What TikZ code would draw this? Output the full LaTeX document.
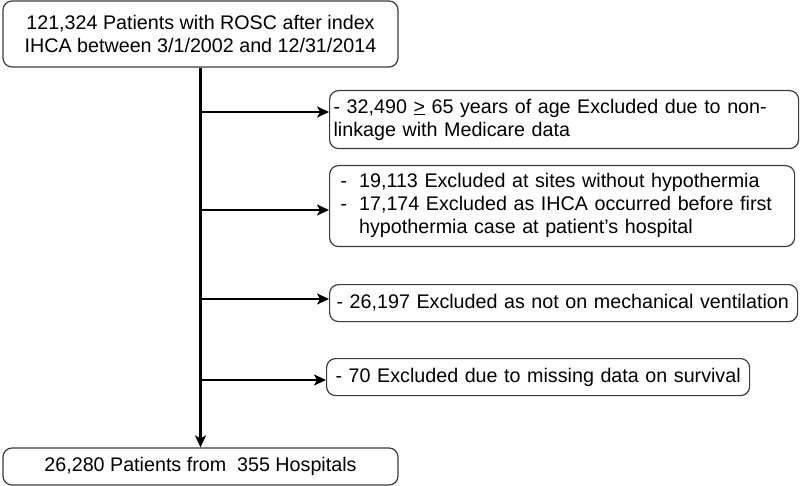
\documentclass[tikz,border=0pt]{standalone}
\usepackage{fontspec}
\setmainfont{Liberation Sans}
\usepackage{tikz}
\usetikzlibrary{positioning,arrows.meta}
\definecolor{cBorder}{HTML}{3C3C3C}
\tikzset{
  base/.style={rounded corners=9pt,draw=cBorder,line width=1.2pt,font=\fontsize{19.7pt}{23pt}\selectfont,inner ysep=0pt,inner xsep=4pt},
  mainbox/.style={base,align=center,minimum width=395pt},
  exbox/.style={base,anchor=north west,align=left},
  arr/.style={-{Stealth[length=12pt,width=11pt,inset=3pt]},line width=2.6pt}}
\begin{document}
\begin{tikzpicture}[x=1pt,y=1pt]
\useasboundingbox (0,0) rectangle (800,-486);
\node[mainbox,minimum height=66pt] (top) at (200.5,-34) {121,324 Patients with ROSC after index\\ IHCA between 3/1/2002 and 12/31/2014};
\node[mainbox,minimum height=37pt] (bot) at (200.5,-466.5) {26,280 Patients from\ \ 355 Hospitals};
\node[exbox,text width=461pt,minimum height=58pt] (ex1) at (329,-90) {- 32,490 \underline{>} 65 years of age Excluded due to non-\\linkage with Medicare data};
\node[exbox,text width=457pt,minimum height=81pt] (ex2) at (329,-165) {\begin{tabular}{@{\hspace{7pt}}l@{\hspace{12pt}}l@{}}
-& 19,113 Excluded at sites without hypothermia\\
-& 17,174 Excluded as IHCA occurred before first\\
 & hypothermia case at patient’s hospital
\end{tabular}};
\node[exbox,text width=460pt,minimum height=37pt] (ex3) at (329,-284) {\mbox{\hspace*{3pt}- 26,197 Excluded as not on mechanical ventilation}};
\node[exbox,text width=415pt,minimum height=37pt] (ex4) at (326,-358) {\mbox{\hspace*{5pt}- 70 Excluded due to missing data on survival}};
\coordinate (j1) at (200.5,-112);
\coordinate (j2) at (200.5,-210);
\coordinate (j3) at (200.5,-299);
\coordinate (j4) at (200.5,-380);
\draw[arr] (top.south) -- (bot.north);
\draw[arr] (j1) -- (j1 -| ex1.west);
\draw[arr] (j2) -- (j2 -| ex2.west);
\draw[arr] (j3) -- (j3 -| ex3.west);
\draw[arr] (j4) -- (j4 -| ex4.west);
\end{tikzpicture}
\end{document}
